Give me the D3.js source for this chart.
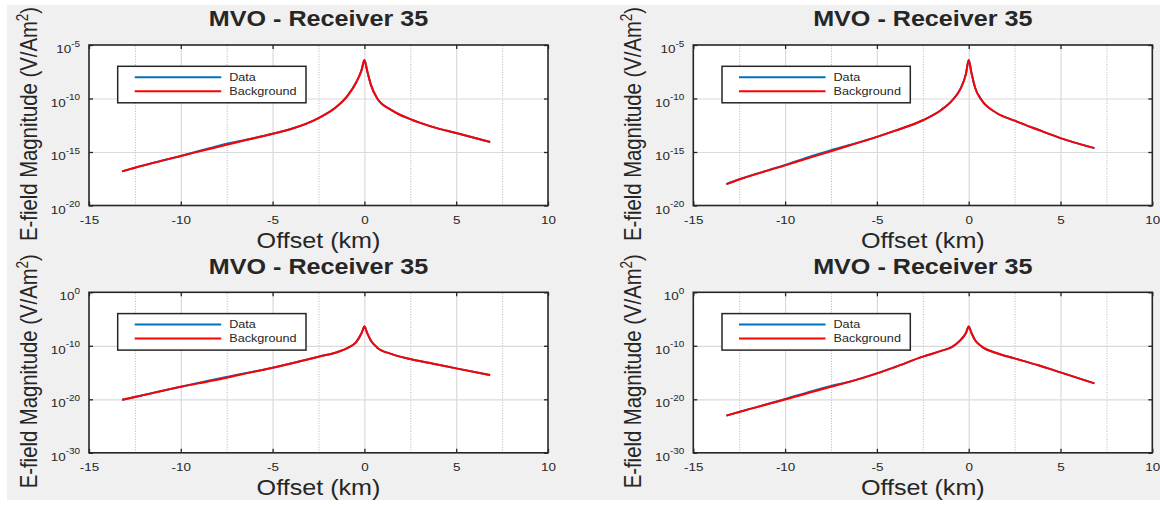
<!DOCTYPE html>
<html>
<head>
<meta charset="utf-8">
<script src="https://cdn.jsdelivr.net/npm/d3@7"></script>
<style>
  body { margin: 0; background: #fff; }
  text { font-family: "Liberation Sans", Arial, Helvetica, sans-serif; fill: #262626; }
</style>
</head>
<body>
<svg id="chart" width="1160" height="506"></svg>
<script>
// offsets (km) shared by every panel
var offsets = [-13.2, -12.5, -10, -8.5, -7.5, -6.5, -5, -4, -2.5, -1.5, -0.9, -0.45, -0.15, 0,
               0.15, 0.35, 0.7, 1.5, 2.5, 3.75, 5, 6.85];

// E-field magnitude (V/Am^2)
var bgTopLeft = [1.55e-17, 3.4e-17, 4.3e-16, 1.8e-15, 4.8e-15, 1.23e-14, 5.1e-14, 1.41e-13, 1.48e-12, 1.78e-11, 2.0e-10, 3.16e-9, 4.7e-8, 3.98e-7,
                 3.98e-8, 2.0e-9, 1.0e-10, 7.9e-12, 1.17e-12, 2.1e-13, 5.9e-14, 8.5e-15];
var dataTopLeft = [1.55e-17, 3.4e-17, 4.3e-16, 2.1e-15, 6.0e-15, 1.32e-14, 5.1e-14, 1.41e-13, 1.48e-12, 1.78e-11, 2.0e-10, 3.16e-9, 4.7e-8, 3.98e-7,
                   3.98e-8, 2.0e-9, 1.0e-10, 7.9e-12, 1.17e-12, 2.1e-13, 5.9e-14, 8.5e-15];

var bgTopRight = [1.0e-18, 2.7e-18, 5.6e-17, 3.5e-16, 1.17e-15, 4.0e-15, 2.6e-14, 1.0e-13, 9.3e-13, 8.5e-12, 6.8e-11, 7.9e-10, 2.0e-8, 3.9e-7,
                  2.5e-8, 1.0e-9, 7.1e-11, 4.7e-12, 8.5e-13, 1.26e-13, 2.0e-14, 2.3e-15];
var dataTopRight = [1.0e-18, 2.8e-18, 6.0e-17, 4.4e-16, 1.5e-15, 4.5e-15, 2.6e-14, 1.0e-13, 9.3e-13, 8.5e-12, 6.8e-11, 7.9e-10, 2.0e-8, 3.9e-7,
                    2.5e-8, 1.0e-9, 7.1e-11, 4.7e-12, 8.5e-13, 1.26e-13, 2.0e-14, 2.3e-15];

var bgBottomLeft = [7.9e-21, 2.6e-20, 2.2e-18, 2.2e-17, 1.07e-16, 6.3e-16, 8.1e-15, 5.0e-14, 9.3e-13, 6.3e-12, 4.0e-11, 5.0e-10, 2.5e-8, 3.9e-7,
                    2.5e-8, 1.0e-9, 4.5e-11, 2.8e-12, 3.4e-13, 4.5e-14, 6.0e-15, 3.4e-16];
var dataBottomLeft = [7.9e-21, 2.6e-20, 2.3e-18, 3.0e-17, 1.5e-16, 7.2e-16, 8.1e-15, 5.0e-14, 9.3e-13, 6.3e-12, 4.0e-11, 5.0e-10, 2.5e-8, 3.9e-7,
                      2.5e-8, 1.0e-9, 4.5e-11, 2.8e-12, 3.4e-13, 4.5e-14, 6.0e-15, 3.4e-16];

var bgBottomRight = [8.9e-24, 4.3e-23, 9.3e-21, 2.5e-19, 2.2e-18, 1.78e-17, 6.9e-16, 1.12e-14, 9.3e-13, 1.12e-11, 6.3e-11, 1.12e-9, 2.5e-8, 3.9e-7,
                     2.5e-8, 1.12e-9, 7.9e-11, 4.5e-12, 4.4e-13, 2.5e-14, 1.07e-15, 9.3e-18];
var dataBottomRight = [8.9e-24, 4.5e-23, 1.1e-20, 3.8e-19, 3.1e-18, 1.9e-17, 6.9e-16, 1.12e-14, 9.3e-13, 1.12e-11, 6.3e-11, 1.12e-9, 2.5e-8, 3.9e-7,
                       2.5e-8, 1.12e-9, 7.9e-11, 4.5e-12, 4.4e-13, 2.5e-14, 1.07e-15, 9.3e-18];

// axis ticks and labels
var xTicks = [-15, -10, -5, 0, 5, 10];
var xMinorTicks = [-12.5, -7.5, -2.5, 2.5, 7.5];
var yTicksTop = [1e-5, 1e-10, 1e-15, 1e-20];
var yTicksBottom = [1, 1e-10, 1e-20, 1e-30];
var titleText = "MVO - Receiver 35";
var xLabelText = "Offset (km)";
var yLabelText = "E-field Magnitude (V/Am";
var legendNames = ["Data", "Background"];

//colors
var colors = {
    "data": "#0072BD",
    "background": "#FF0000",
    "axis": "#262626",
    "grid": "#dadada",
    "minor": "#b4b4b4",
    "figure": "#f0f0f0"
};

// the picture is a bit wider than it is tall, so text is stretched sideways
var S = 1.17;
var W = 459, H = 160.5;

var svg = d3.select("#chart");
svg.append("rect").attr("x", 7).attr("y", 5).attr("width", 1153).attr("height", 495).attr("fill", colors.figure);

var defs = svg.append("defs");
defs.append("clipPath").attr("id", "clipTop")
  .append("rect").attr("x", 0).attr("y", 0).attr("width", 1160).attr("height", 256);
defs.append("clipPath").attr("id", "clipBottom")
  .append("rect").attr("x", 0).attr("y", 253).attr("width", 1160).attr("height", 253);

var panels = [
  {left: 89, top: 45, bg: bgTopLeft, data: dataTopLeft, yTicks: yTicksTop, clip: "clipTop"},
  {left: 693.3, top: 45, bg: bgTopRight, data: dataTopRight, yTicks: yTicksTop, clip: "clipTop"},
  {left: 89, top: 292.3, bg: bgBottomLeft, data: dataBottomLeft, yTicks: yTicksBottom, clip: "clipBottom"},
  {left: 693.3, top: 292.3, bg: bgBottomRight, data: dataBottomRight, yTicks: yTicksBottom, clip: "clipBottom"}
];

function stretchText(parent, x, y, str, size) {
  return parent.append("text")
    .attr("transform", "translate(" + x + "," + y + ") scale(" + S + ",1)")
    .attr("font-size", size)
    .text(str);
}

function drawPanel(p) {
  var outer = svg.append("g").attr("clip-path", "url(#" + p.clip + ")");
  var g = outer.append("g").attr("transform", "translate(" + p.left + "," + p.top + ")");

  var x = d3.scaleLinear().domain([-15, 10]).range([0, W]);
  var yDomain = d3.extent(p.yTicks);
  var y = d3.scaleLog().domain(yDomain).range([H, 0]);

  g.append("rect").attr("width", W).attr("height", H).attr("fill", "#fff");

  // minor grid (dotted)
  var minor = g.append("g").attr("transform", "translate(0," + H + ")")
    .call(d3.axisBottom(x).tickValues(xMinorTicks).tickSize(-H).tickFormat(""));
  minor.select(".domain").remove();
  minor.selectAll("line").attr("stroke", colors.minor).attr("stroke-dasharray", "1,1.6");

  // major grid
  var gx = g.append("g").attr("transform", "translate(0," + H + ")")
    .call(d3.axisBottom(x).tickValues(xTicks.slice(1, -1)).tickSize(-H).tickFormat(""));
  gx.select(".domain").remove();
  gx.selectAll("line").attr("stroke", colors.grid).attr("stroke-width", 1.2);
  var gy = g.append("g")
    .call(d3.axisLeft(y).tickValues(p.yTicks.slice(1, -1)).tickSize(-W).tickFormat(""));
  gy.select(".domain").remove();
  gy.selectAll("line").attr("stroke", colors.grid).attr("stroke-width", 1.2);

  // curves
  var line = d3.line()
    .x(function(d) { return x(d[0]); })
    .y(function(d) { return y(d[1]); })
    .curve(d3.curveMonotoneX);
  g.append("path").datum(d3.zip(offsets, p.data)).attr("d", line)
    .attr("fill", "none").attr("stroke", colors.data).attr("stroke-width", 2);
  g.append("path").datum(d3.zip(offsets, p.bg)).attr("d", line)
    .attr("fill", "none").attr("stroke", colors.background).attr("stroke-width", 2);

  // ticks on all four sides, pointing in
  var bottom = g.append("g").attr("transform", "translate(0," + H + ")")
    .call(d3.axisBottom(x).tickValues(xTicks).tickSizeInner(-4).tickSizeOuter(0));
  var top = g.append("g").call(d3.axisTop(x).tickValues(xTicks).tickSizeInner(-4).tickSizeOuter(0).tickFormat(""));
  var left = g.append("g").call(d3.axisLeft(y).tickValues(p.yTicks).tickSizeInner(-4).tickSizeOuter(0));
  var right = g.append("g").attr("transform", "translate(" + W + ",0)")
    .call(d3.axisRight(y).tickValues(p.yTicks).tickSizeInner(-4).tickSizeOuter(0).tickFormat(""));
  [bottom, top, left, right].forEach(function(a) {
    a.select(".domain").remove();
    a.selectAll("line").attr("stroke", colors.axis).attr("stroke-width", 1.3);
  });

  bottom.selectAll("text")
    .attr("y", 18.5).attr("dy", null)
    .attr("transform", "scale(" + S + ",1)")
    .attr("font-size", 11.5).attr("fill", colors.axis)
    .text(function(d) { return d; });

  left.selectAll("text").each(function(d) {
    var t = d3.select(this);
    t.text(null)
      .attr("x", -9 / S).attr("y", 7.5).attr("dy", null)
      .attr("transform", "scale(" + S + ",1)")
      .attr("text-anchor", "end").attr("fill", colors.axis);
    t.append("tspan").attr("font-size", 11.5).text("10");
    t.append("tspan").attr("font-size", 8.5).attr("dy", -6.5).text(Math.round(Math.log10(d)));
  });

  // box
  g.append("rect").attr("width", W).attr("height", H)
    .attr("fill", "none").attr("stroke", colors.axis).attr("stroke-width", 1.6);

  // legend
  var lg = g.append("g").attr("transform", "translate(28.7,21.3)");
  lg.append("rect").attr("width", 188.3).attr("height", 36.5)
    .attr("fill", "#fff").attr("stroke", colors.axis).attr("stroke-width", 1.5);
  var legendColors = [colors.data, colors.background];
  legendNames.forEach(function(name, i) {
    var ly = 11 + i * 14;
    lg.append("line").attr("x1", 17).attr("x2", 103.5).attr("y1", ly).attr("y2", ly)
      .attr("stroke", legendColors[i]).attr("stroke-width", 2);
    stretchText(lg, 111.5, ly + 3.8, name, 10.8).attr("fill", colors.axis);
  });

  // title and axis labels
  stretchText(g, W / 2, -18.6, titleText, 21.5)
    .attr("text-anchor", "middle").attr("font-weight", "bold").attr("fill", "#000");
  stretchText(g, W / 2, H + 42.3, xLabelText, 21.5)
    .attr("text-anchor", "middle");

  var yl = g.append("text")
    .attr("transform", "translate(-52,196) scale(" + S + ",1) rotate(-90)")
    .attr("font-size", 20.3);
  yl.append("tspan").text(yLabelText);
  yl.append("tspan").attr("font-size", 13.5).attr("dy", -8).text("2");
  yl.append("tspan").attr("dy", 8).text(")");
}

panels.forEach(drawPanel);
</script>
</body>
</html>
